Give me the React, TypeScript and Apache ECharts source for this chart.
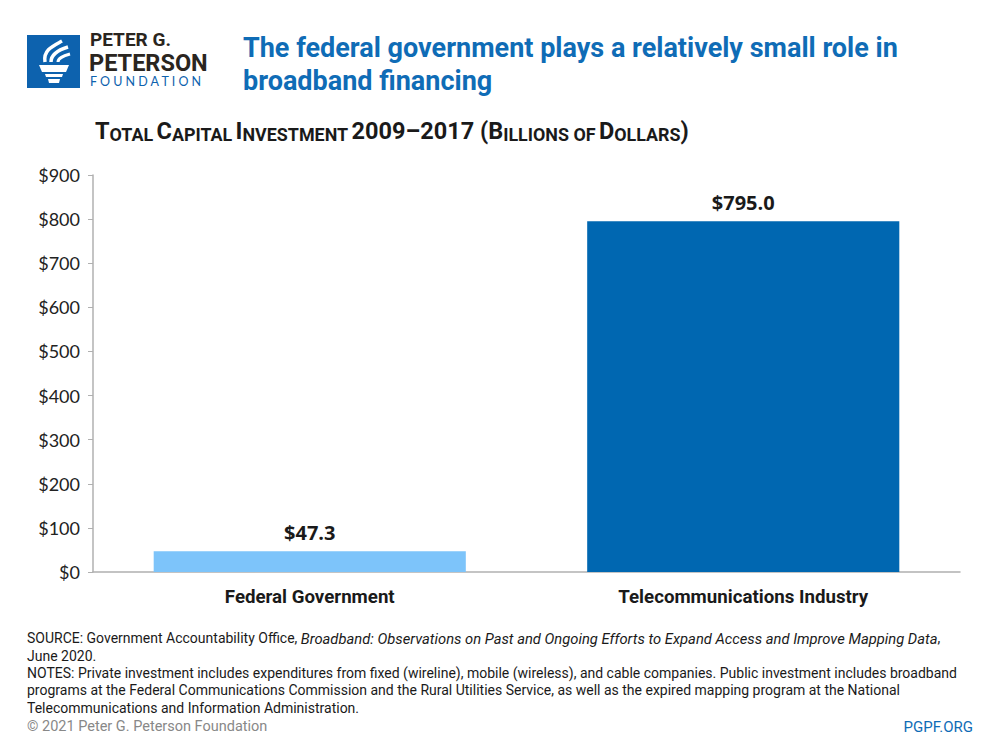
import React, { useEffect, useRef } from "react";
import * as echarts from "echarts";

const categories = ["Federal Government", "Telecommunications Industry"];
const values = [47.3, 795.0];
const barColors = ["#7DC4FA", "#0067B1"];
const yTicks = { min: 0, max: 900, interval: 100 };

const NARROW = "'Liberation Sans Narrow', 'Arial Narrow', 'Roboto', sans-serif";
const LATO = "Lato, 'Open Sans', sans-serif";

export default function App() {
  const ref = useRef<HTMLDivElement>(null);
  useEffect(() => {
    if (!ref.current) return;
    const chart = echarts.init(ref.current, null, { renderer: "svg" });
    const option: any = {
      animation: false,
      backgroundColor: "#ffffff",
      grid: { left: 93, right: 40, top: 175, bottom: 178, containLabel: false },
      xAxis: {
        type: "category",
        data: categories,
        axisLine: { lineStyle: { color: "#b0b0b0", width: 1.5 } },
        axisTick: { show: false },
        axisLabel: {
          margin: 15,
          fontFamily: NARROW,
          fontWeight: "bold",
          fontSize: 18.7,
          color: "#1a1a1a",
        },
      },
      yAxis: {
        type: "value",
        min: yTicks.min,
        max: yTicks.max,
        interval: yTicks.interval,
        axisLine: { show: true, lineStyle: { color: "#b0b0b0", width: 1.5 } },
        axisTick: { show: true, length: 5, lineStyle: { color: "#b0b0b0" } },
        splitLine: { show: false },
        axisLabel: {
          formatter: (v: number) => "$" + v,
          fontFamily: LATO,
          fontSize: 18,
          color: "#222",
          margin: 13,
        },
      },
      series: [
        {
          type: "bar",
          barWidth: "72%",
          data: values.map((v, i) => ({ value: v, itemStyle: { color: barColors[i] } })),
          label: {
            show: true,
            position: "top",
            distance: 9,
            formatter: (p: any) => "$" + Number(p.value).toFixed(1),
            fontFamily: "'Open Sans', Lato, sans-serif",
            fontWeight: "bold",
            fontSize: 20,
            color: "#1a1a1a",
          },
        },
      ],
      graphic: [
        // logo
        { type: "rect", left: 27, top: 35, shape: { width: 53, height: 53 }, style: { fill: "#0D62AE" } },
        {
          type: "polygon",
          shape: { points: [[39, 65], [69, 65], [66, 72], [42, 72]] },
          style: { fill: "#fff" },
        },
        {
          type: "polygon",
          shape: { points: [[45, 74], [63, 74], [62, 77], [46, 77]] },
          style: { fill: "#fff" },
        },
        {
          type: "polygon",
          shape: { points: [[48, 79], [60, 79], [59, 83], [49, 83]] },
          style: { fill: "#fff" },
        },
        {
          type: "bezierCurve",
          shape: { x1: 45, y1: 62, x2: 62, y2: 41, cpx1: 43, cpy1: 50, cpx2: 53, cpy2: 46 },
          style: { stroke: "#fff", lineWidth: 3.5, fill: "none" },
        },
        {
          type: "bezierCurve",
          shape: { x1: 51, y1: 62, x2: 68, y2: 47, cpx1: 51, cpy1: 54, cpx2: 58, cpy2: 50 },
          style: { stroke: "#fff", lineWidth: 3.5, fill: "none" },
        },
        {
          type: "bezierCurve",
          shape: { x1: 58, y1: 62, x2: 70, y2: 54, cpx1: 58, cpy1: 58, cpx2: 63, cpy2: 56 },
          style: { stroke: "#fff", lineWidth: 3, fill: "none" },
        },
        {
          type: "text",
          left: 89,
          top: 30,
          style: {
            text: "{a|PETER G.}\n{b|PETERSON}\n{c|F O U N D A T I O N}",
            rich: {
              a: { fontFamily: NARROW, fontWeight: "bold", fontSize: 19, fill: "#2a2520", lineHeight: 22, padding: [0, 0, 0, 1] },
              b: { fontFamily: NARROW, fontWeight: "bold", fontSize: 23.5, fill: "#2a2520", lineHeight: 24 },
              c: { fontFamily: LATO, fontSize: 12.5, fill: "#0D62AE", lineHeight: 14, padding: [0, 0, 0, 1] },
            },
          },
        },
        // title
        {
          type: "text",
          left: 243,
          top: 31,
          style: {
            text: "The federal government plays a relatively small role in\nbroadband financing",
            font: "bold 27px " + NARROW,
            fill: "#0F6CB6",
            lineHeight: 33,
          },
        },
        // subtitle small caps
        {
          type: "text",
          left: 95,
          top: 119,
          style: {
            text: "{b|T}{s|OTAL} {b|C}{s|APITAL} {b|I}{s|NVESTMENT} {b|2009–2017 (B}{s|ILLIONS OF} {b|D}{s|OLLARS}{b|)}",
            rich: {
              b: { fontFamily: NARROW, fontWeight: "bold", fontSize: 23.5, fill: "#1a1a1a", verticalAlign: "bottom", lineHeight: 26 },
              s: { fontFamily: NARROW, fontWeight: "bold", fontSize: 17.9, fill: "#1a1a1a", verticalAlign: "bottom", lineHeight: 26 },
            },
          },
        },
        // footnotes
        {
          type: "text",
          left: 27,
          top: 631,
          style: {
            text:
              "{n|SOURCE: Government Accountability Office, }{i|Broadband: Observations on Past and Ongoing Efforts to Expand Access and Improve Mapping Data}{n|,}\n" +
              "{n|June 2020.}\n" +
              "{n|NOTES: Private investment includes expenditures from fixed (wireline), mobile (wireless), and cable companies. Public investment includes broadband}\n" +
              "{n|programs at the Federal Communications Commission and the Rural Utilities Service, as well as the expired mapping program at the National}\n" +
              "{n|Telecommunications and Information Administration.}",
            rich: {
              n: { fontFamily: NARROW, fontSize: 14, fill: "#1a1a1a", lineHeight: 17.3 },
              i: { fontFamily: NARROW, fontStyle: "italic", fontSize: 14.75, fill: "#1a1a1a", lineHeight: 17.3 },
            },
          },
        },
        {
          type: "text",
          left: 27,
          top: 719,
          style: { text: "© 2021 Peter G. Peterson Foundation", font: "14.5px " + NARROW, fill: "#888" },
        },
        {
          type: "text",
          right: 27,
          top: 719,
          style: { text: "PGPF.ORG", font: "15px " + NARROW, fill: "#0F6CB6" },
        },
      ],
    };
    chart.setOption(option);
    return () => chart.dispose();
  }, []);
  return <div ref={ref} style={{ width: 1000, height: 750, position: "absolute", left: 0, top: 0 }} />;
}
